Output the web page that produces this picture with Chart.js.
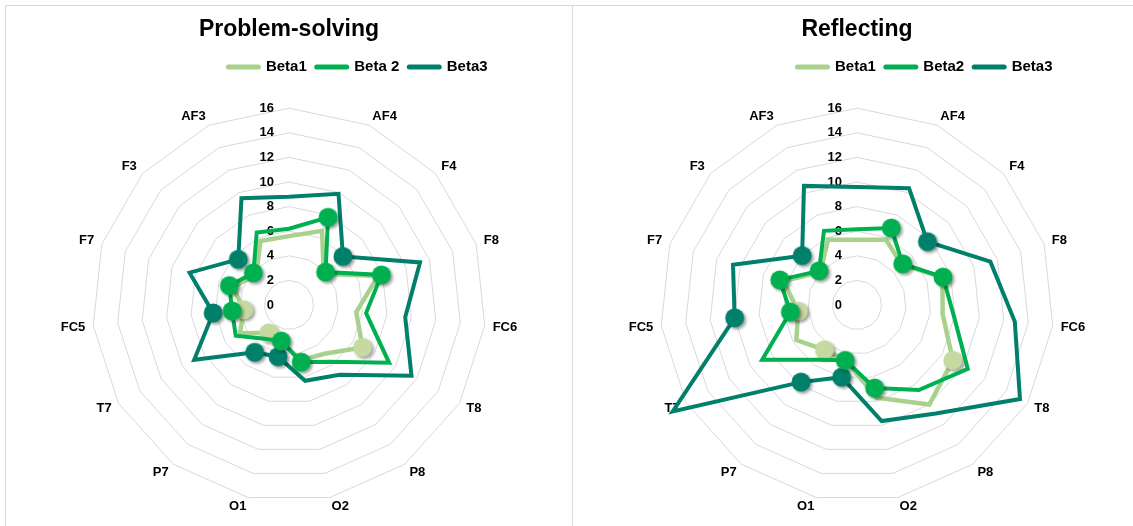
<!DOCTYPE html>
<html>
<head>
<meta charset="utf-8">
<script src="https://cdn.jsdelivr.net/npm/chart.js@4.4.1/dist/chart.umd.min.js"></script>
<style>
  html, body { margin: 0; padding: 0; background: #ffffff; width: 1133px; height: 526px; overflow: hidden; }
  .panel { position: absolute; top: 5px; height: 540px; box-sizing: border-box; border: 1px solid #d9d9d9; background: #ffffff; }
  #panelA { left: 5px; width: 568px; }
  #panelB { left: 572px; width: 570px; }
  .panel canvas { position: absolute; left: 0; top: 0; }
</style>
</head>
<body>
<div class="panel" id="panelA"><canvas id="problemChart" width="566" height="520"></canvas></div>
<div class="panel" id="panelB"><canvas id="reflectChart" width="568" height="520"></canvas></div>
<script>
// Electrode channels, clockwise from the top spoke (the top spoke carries no name)
const categories = ['', 'AF4', 'F4', 'F8', 'FC6', 'T8', 'P8', 'O2', 'O1', 'P7', 'T7', 'FC5', 'F7', 'F3', 'AF3'];
const tickValues = [0, 2, 4, 6, 8, 10, 12, 14, 16];

// Problem-solving task
const problemBeta1 = [5.6, 6.6, 3.8, 7.6, 5.5, 6.9, 4.9, 4.6, 3.0, 2.8, 4.6, 3.7, 4.8, 3.6, 5.7];
const problemBeta2 = [6.2, 7.8, 4.0, 7.9, 6.3, 9.4, 5.7, 4.75, 3.0, 3.4, 5.0, 4.65, 5.1, 3.9, 6.45];
const problemBeta3 = [8.8, 9.9, 5.9, 11.2, 9.5, 11.5, 7.0, 6.3, 4.3, 4.75, 8.9, 6.2, 8.5, 5.55, 9.5];
const problemLegend = ['Beta1', 'Beta 2', 'Beta3'];

// Reflecting task
const reflectBeta1 = [5.3, 5.8, 4.9, 7.3, 7.0, 9.0, 10.0, 7.7, 4.6, 4.5, 5.7, 4.8, 6.3, 4.0, 5.8];
const reflectBeta2 = [6.15, 6.85, 5.0, 7.35, 7.9, 10.4, 8.55, 6.9, 4.6, 5.5, 8.9, 5.45, 6.6, 4.15, 6.6];
const reflectBeta3 = [9.6, 10.4, 7.7, 11.4, 12.9, 15.3, 10.9, 9.65, 6.0, 7.75, 17.3, 10.0, 10.6, 6.0, 10.6];
const reflectLegend = ['Beta1', 'Beta2', 'Beta3'];

// Channels that carry a round marker on each band
const beta1Markers = ['T8', 'P7', 'FC5'];
const beta2Markers = ['AF4', 'F4', 'F8', 'O2', 'O1', 'FC5', 'F7', 'F3'];
const beta3Markers = ['F4', 'O1', 'P7', 'FC5', 'F3'];

const FONT = '"Liberation Sans", Arial, Helvetica, sans-serif';
const MARKER_R = 9;

// Round marker sprite with a soft drop shadow
function markerSprite(color) {
  const size = 28;
  const c = document.createElement('canvas');
  c.width = size; c.height = size;
  const g = c.getContext('2d');
  g.shadowColor = 'rgba(0,0,0,0.38)';
  g.shadowBlur = 3;
  g.shadowOffsetX = 2;
  g.shadowOffsetY = 2;
  g.fillStyle = color;
  g.beginPath();
  g.arc(size / 2, size / 2, MARKER_R + 0.5, 0, Math.PI * 2);
  g.fill();
  return c;
}

const bandStyles = [
  { line: '#a9d18e', dot: '#c6d9a1', width: 4.5, order: 1, markers: beta1Markers },
  { line: '#00b050', dot: '#00b050', width: 4, order: 0, markers: beta2Markers },
  { line: '#00806a', dot: '#00806a', width: 4, order: 2, markers: beta3Markers }
];

function markerRadii(names) {
  return categories.map(c => (c !== '' && names.includes(c)) ? MARKER_R : 0);
}

// Ring values written to the left of the top spoke, 0 included
const ringValuePlugin = {
  id: 'ringValues',
  beforeDatasetsDraw(chart) {
    const s = chart.scales.r;
    const ctx = chart.ctx;
    ctx.save();
    ctx.font = 'bold 13px ' + FONT;
    ctx.fillStyle = '#000000';
    ctx.textAlign = 'right';
    ctx.textBaseline = 'middle';
    tickValues.forEach(v => {
      ctx.fillText(String(v), s.xCenter - 15, s.yCenter - s.getDistanceFromCenterForValue(v));
    });
    ctx.restore();
  }
};

// Legend row sits right of the title axis
const legendShiftPlugin = {
  id: 'legendShift',
  afterLayout(chart, args, opts) {
    const lg = chart.legend;
    if (lg) { lg.left += opts.dx; lg.right += opts.dx; }
  }
};

function buildChart(canvasId, title, legendNames, series, legendDx) {
  const datasets = series.map((values, i) => {
    const st = bandStyles[i];
    return {
      label: legendNames[i],
      data: values,
      order: st.order,
      borderColor: st.line,
      borderWidth: st.width,
      borderJoinStyle: 'miter',
      backgroundColor: st.dot,
      fill: false,
      tension: 0,
      clip: false,
      pointStyle: markerSprite(st.dot),
      pointRadius: markerRadii(st.markers),
      pointBackgroundColor: st.dot,
      pointBorderWidth: 0,
      pointHoverRadius: markerRadii(st.markers)
    };
  });

  return new Chart(document.getElementById(canvasId), {
    type: 'radar',
    data: { labels: categories, datasets },
    plugins: [ringValuePlugin, legendShiftPlugin],
    options: {
      responsive: false,
      animation: false,
      events: [],
      layout: { padding: { top: 0, bottom: 12, left: 0, right: 0 } },
      scales: {
        r: {
          min: 0,
          max: 16,
          ticks: { stepSize: 2, display: false },
          grid: { color: '#d9d9d9', lineWidth: 1, circular: false },
          angleLines: { display: false },
          pointLabels: {
            display: true,
            padding: (ctx) => (ctx.index === 0 ? 15 : 8),
            color: '#000000',
            font: { family: FONT, size: 13, weight: 'bold', lineHeight: 0.2 }
          }
        }
      },
      plugins: {
        title: {
          display: true,
          text: title,
          color: '#000000',
          font: { family: FONT, size: 23, weight: 'bold' },
          padding: { top: 10, bottom: 6 }
        },
        legend: {
          display: true,
          position: 'top',
          labels: {
            usePointStyle: true,
            pointStyle: 'line',
            pointStyleWidth: 30,
            padding: 10,
            color: '#000000',
            font: { family: FONT, size: 15, weight: 'bold' },
            generateLabels: (chart) => chart.data.datasets.map((ds, i) => ({
              text: ds.label,
              strokeStyle: ds.borderColor,
              fillStyle: ds.borderColor,
              lineWidth: 5,
              lineCap: 'round',
              pointStyle: 'line',
              hidden: false,
              datasetIndex: i,
              fontColor: '#000000'
            }))
          }
        },
        legendShift: { dx: legendDx },
        tooltip: { enabled: false }
      }
    }
  });
}

buildChart('problemChart', 'Problem-solving', problemLegend, [problemBeta1, problemBeta2, problemBeta3], 69);
buildChart('reflectChart', 'Reflecting', reflectLegend, [reflectBeta1, reflectBeta2, reflectBeta3], 68);
</script>
</body>
</html>
